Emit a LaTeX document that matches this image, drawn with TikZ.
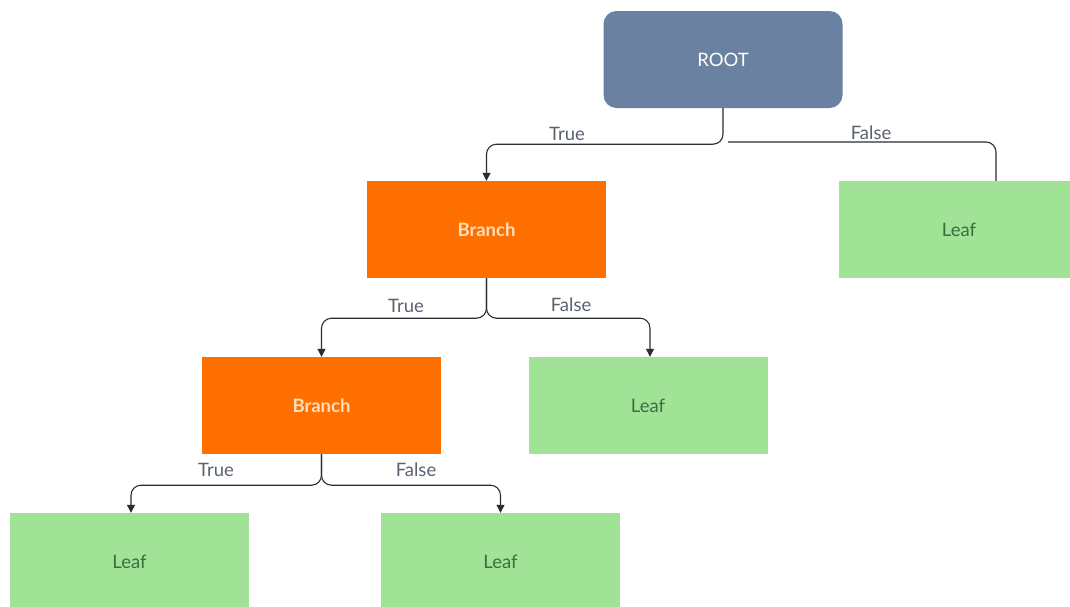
\documentclass[tikz,border=0pt]{standalone}
\usepackage{fontspec}
\setmainfont{Lato}
\usetikzlibrary{arrows.meta}
\definecolor{rootfill}{RGB}{107,129,161}
\definecolor{branchfill}{RGB}{255,111,0}
\definecolor{branchtext}{RGB}{255,222,190}
\definecolor{leaffill}{RGB}{160,227,150}
\definecolor{leaftext}{RGB}{58,110,62}
\definecolor{labeltext}{RGB}{88,98,112}
\definecolor{linecol}{RGB}{45,45,45}
\tikzset{
  txt/.style={font=\fontsize{18.5}{21}\selectfont},
  box/.style={inner sep=0pt, minimum width=239pt, minimum height=97pt, txt},
  rootbox/.style={box, fill=rootfill, rounded corners=13pt, text=white},
  branchbox/.style={box, fill=branchfill, text=branchtext, font=\fontsize{18.5}{21}\selectfont\bfseries},
  leafbox/.style={box, fill=leaffill, text=leaftext},
  conn/.style={draw=linecol, line width=1.1pt, rounded corners=10pt},
  arr/.style={conn, -{Triangle[length=8pt,width=8pt]}},
  edgelabel/.style={text=labeltext, txt, inner sep=1pt}
}
\begin{document}
\begin{tikzpicture}[x=1pt, y=-1pt]
  \clip (0,0) rectangle (1070,606);
  \fill[white] (0,0) rectangle (1070,606);

  % tree nodes
  \node[rootbox] (root) at (723,59.5) {ROOT};
  \node[branchbox] (b1) at (486.5,229.5) {Branch};
  \node[leafbox, minimum width=240pt] (l1) at (959,229.5) {Leaf};
  \node[branchbox] (b2) at (321.5,405.5) {Branch};
  \node[leafbox] (l2) at (648,405.5) {Leaf};
  \node[leafbox] (l3) at (129.5,561.5) {Leaf};
  \node[leafbox] (l4) at (500.5,561.5) {Leaf};

  % free start of the root's False edge
  \coordinate (rf) at (728,142);

  % connectors
  \draw[arr] (root.south) -- ++(0,36) -| (b1.north);
  \draw[conn] (rf) -| ([xshift=37pt]l1.north);
  \draw[arr] (b1.south) -- ++(0,40) -| (b2.north);
  \draw[arr] (b1.south) -- ++(0,40) -| ([xshift=2pt]l2.north);
  \draw[arr] (b2.south) -- ++(0,31) -| ([xshift=1.5pt]l3.north);
  \draw[arr] (b2.south) -- ++(0,31) -| (l4.north);

  % edge labels
  \node[edgelabel] (t0) at (567,134) {True};
  \node[edgelabel] (f0) at (871,133) {False};
  \node[edgelabel] (t1) at (406,306) {True};
  \node[edgelabel] (f1) at (571,305) {False};
  \node[edgelabel] (t2) at (216,470) {True};
  \node[edgelabel] (f2) at (416,470) {False};
\end{tikzpicture}
\end{document}
